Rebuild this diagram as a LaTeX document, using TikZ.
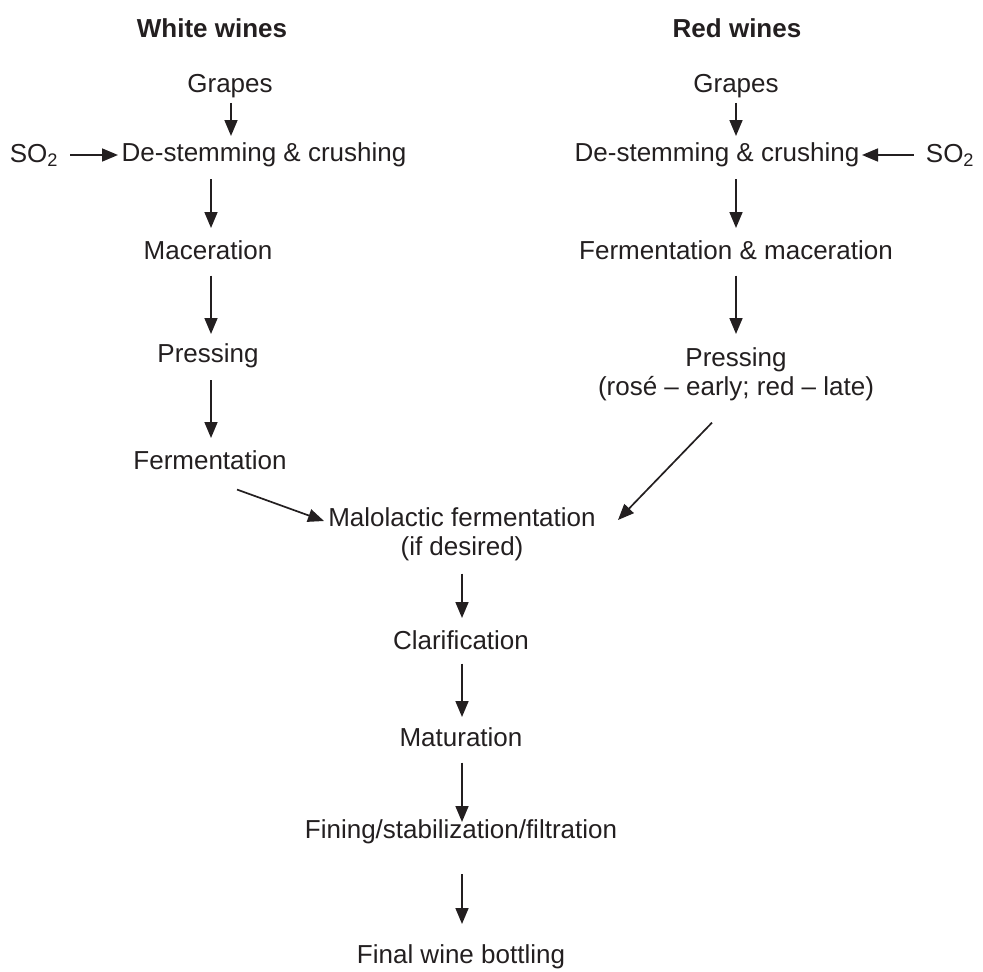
\documentclass[tikz,border=0pt]{standalone}
\usepackage{fontspec}
\setmainfont{Liberation Sans}
\usetikzlibrary{arrows.meta}
\definecolor{ink}{HTML}{231F20}
\begin{document}
\begin{tikzpicture}[x=1pt,y=-1pt,
  every node/.style={inner sep=0pt, outer sep=0pt, text=ink, font=\fontsize{26}{29}\selectfont},
  head/.style={font=\fontsize{26}{29}\selectfont\bfseries},
  two/.style={align=center},
  arr/.style={draw=ink, line width=1.7pt, -{Triangle[length=16pt,width=13pt]}}]
\useasboundingbox (0,0) rectangle (983,972);

% column headings
\node[head] (hw) at (212,28) {White wines};
\node[head] (hr) at (737,28) {Red wines};

% white wine line
\node (gw) at (230,86) {Grapes};
\node (dw) at (264,155) {De-stemming \& crushing};
\node (sw) at (34,155) {SO\textsubscript{2}};
\node (mw) at (208,250) {Maceration};
\node (pw) at (208,356) {Pressing};
\node (fw) at (210,460) {Fermentation};

% red wine line
\node (gr) at (736,86) {Grapes};
\node (dr) at (717,155) {De-stemming \& crushing};
\node (sr) at (950,155) {SO\textsubscript{2}};
\node (fr) at (736,250) {Fermentation \& maceration};
\node[two] (pr) at (736,374) {Pressing\\(rosé – early; red – late)};

% common line
\node[two] (ml) at (462,534) {Malolactic fermentation\\(if desired)};
\node (cl) at (461,640) {Clarification};
\node (ma) at (461,737) {Maturation};
\node (fi) at (461,832) {Fining/stabilization/filtration};
\node (fb) at (461,957) {Final wine bottling};

% arrow ends
\coordinate (gwe) at (231,136);
\coordinate (sre) at (862,155);
\coordinate (swe) at (118,155);
\coordinate (dwe) at (211,228);
\coordinate (mwe) at (211,334);
\coordinate (pwe) at (211,438);
\coordinate (gre) at (736,136);
\coordinate (dre) at (736,228);
\coordinate (fre) at (736,334);
\coordinate (fwe) at (324,521);
\coordinate (pre) at (618,520);
\coordinate (mle) at (462,618);
\coordinate (cle) at (462,717);
\coordinate (mae) at (462,822);
\coordinate (fie) at (462,924);

% connectors, white
\draw[arr] (gwe |- gw.south) ++(0,5) -- (gwe);
\draw[arr] (sw.east) ++(12,0) -- (swe);
\draw[arr] (dwe |- dw.south) ++(0,12) -- (dwe);
\draw[arr] (mwe |- mw.south) ++(0,16) -- (mwe);
\draw[arr] (pwe |- pw.south) ++(0,12) -- (pwe);
\draw[arr] (fw.south) ++(27,20) -- (fwe);

% connectors, red
\draw[arr] (gr.south) ++(0,5) -- (gre);
\draw[arr] (sr.west) ++(-12,0) -- (sre);
\draw[arr] (dr.south -| dre) ++(0,12) -- (dre);
\draw[arr] (fr.south) ++(0,16) -- (fre);
\draw[arr] (pr.south) ++(-24,22) -- (pre);

% connectors, common
\draw[arr] (ml.south -| mle) ++(0,13) -- (mle);
\draw[arr] (cl.south -| cle) ++(0,14) -- (cle);
\draw[arr] (ma.south -| mae) ++(0,16) -- (mae);
\draw[arr] (fi.south -| fie) ++(0,30) -- (fie);
\end{tikzpicture}
\end{document}
